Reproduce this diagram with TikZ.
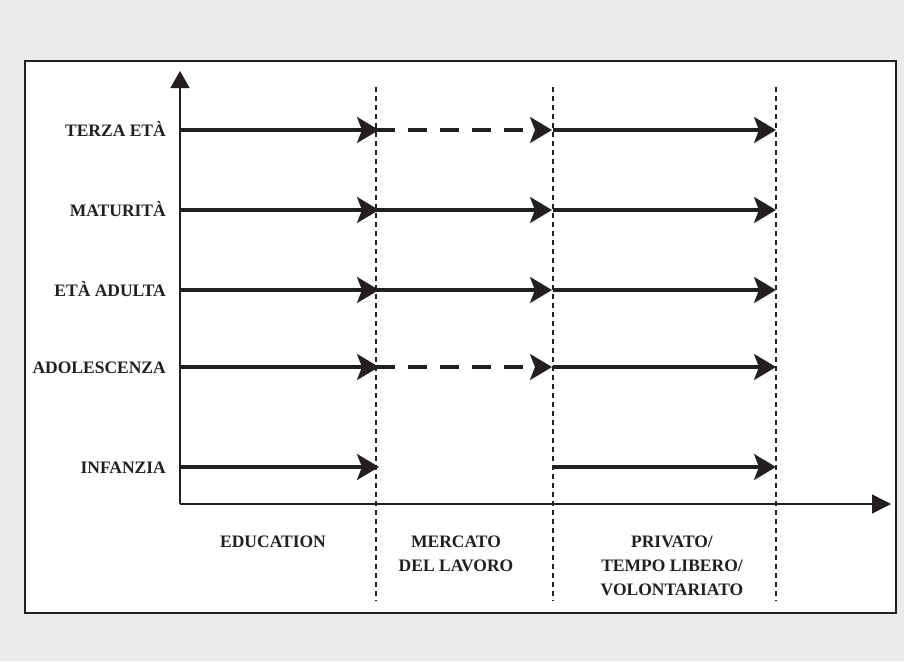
\documentclass[tikz,border=0pt]{standalone}
\usepackage{fontspec}
\setmainfont{Liberation Serif}
\usetikzlibrary{arrows.meta}
\definecolor{bggray}{RGB}{235,235,235}
\definecolor{ink}{RGB}{35,31,32}
\tikzset{
  lbl/.style={font=\fontsize{17.5}{24}\selectfont\bfseries, text=ink, inner sep=0pt},
  flow/.style={line width=3.2pt, draw=ink, -{Stealth[length=22pt,width=26pt,inset=5pt]}},
  flowdash/.style={flow, dash pattern=on 19pt off 13pt},
  axis/.style={line width=1.5pt, draw=ink},
  divider/.style={line width=2pt, draw=ink, dash pattern=on 5pt off 4pt},
}
\begin{document}
\begin{tikzpicture}[x=1pt,y=-1pt]
\fill[bggray] (0,0) rectangle (904,661);
\draw[line width=2pt, draw=ink, fill=white] (25,61) rectangle (896,613);

% dividers
\coordinate (d1t) at (376,87); \coordinate (d1b) at (376,601);
\coordinate (d2t) at (553,87); \coordinate (d2b) at (553,601);
\coordinate (d3t) at (776,87); \coordinate (d3b) at (776,601);
\draw[divider] (d1t) -- (d1b);
\draw[divider] (d2t) -- (d2b);
\draw[divider] (d3t) -- (d3b);

% axes
\coordinate (O) at (180,504);
\coordinate (ytip) at (180,71);
\coordinate (xtip) at (891,504);
\draw[axis, -{Triangle[length=17pt,width=19pt]}] (O) -- (ytip);
\draw[axis, -{Triangle[length=19pt,width=19pt]}] (O) -- (xtip);

% rows
\foreach \n/\y in {terza/130, matur/210, adulta/290, adol/367, inf/467}{
  \coordinate (\n0) at (180,\y);
  \coordinate (\n1) at (379,\y);
  \coordinate (\n1s) at (376,\y);
  \coordinate (\n2) at (552,\y);
  \coordinate (\n2s) at (553,\y);
  \coordinate (\n3) at (776,\y);
}

\node[lbl, anchor=base east] (lterza) at (166,136) {TERZA ETÀ};
\node[lbl, anchor=base east] (lmatur) at (166,216) {MATURITÀ};
\node[lbl, anchor=base east] (ladulta) at (166,296) {ETÀ ADULTA};
\node[lbl, anchor=base east] (ladol) at (166,373) {ADOLESCENZA};
\node[lbl, anchor=base east] (linf) at (166,473) {INFANZIA};

% terza eta
\draw[flow] (terza0) -- (terza1);
\draw[flowdash] (terza1s) -- (terza2);
\draw[flow] (terza2s) -- (terza3);
% maturita
\draw[flow] (matur0) -- (matur1);
\draw[flow] (matur1s) -- (matur2);
\draw[flow] (matur2s) -- (matur3);
% eta adulta
\draw[flow] (adulta0) -- (adulta1);
\draw[flow] (adulta1s) -- (adulta2);
\draw[flow] (adulta2s) -- (adulta3);
% adolescenza
\draw[flow] (adol0) -- (adol1);
\draw[flowdash] (adol1s) -- (adol2);
\draw[flow] (adol2s) -- (adol3);
% infanzia
\draw[flow] (inf0) -- (inf1);
\draw[flow] (inf2s) -- (inf3);

% bottom labels
\node[lbl, anchor=north] (edu) at (273,536) {EDUCATION};
\node[lbl, anchor=north, align=center] (merc) at (456,536) {MERCATO\\DEL LAVORO};
\node[lbl, anchor=north, align=center] (priv) at (672,536) {PRIVATO/\\TEMPO LIBERO/\\VOLONTARIATO};
\end{tikzpicture}
\end{document}
